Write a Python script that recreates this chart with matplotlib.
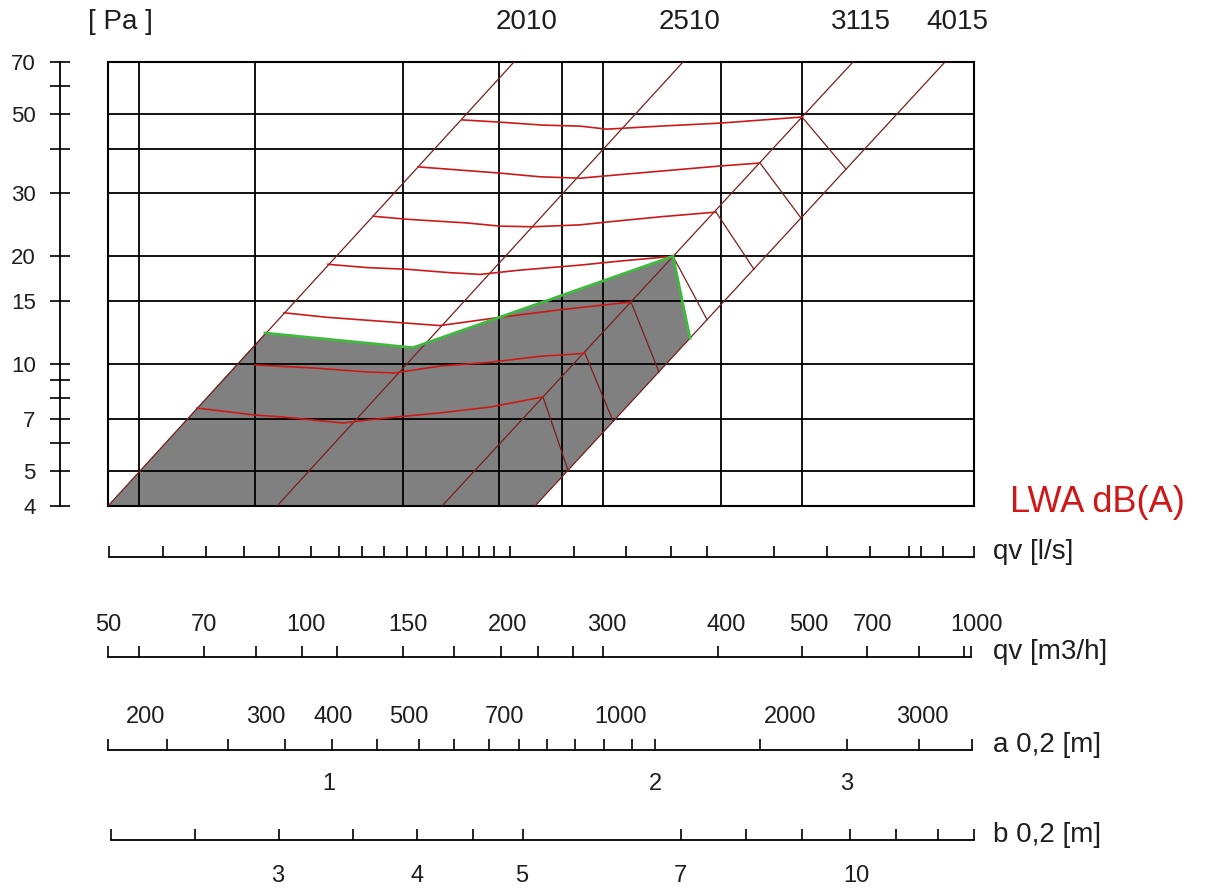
import matplotlib
matplotlib.use("Agg")
import matplotlib.pyplot as plt
import matplotlib.transforms as mtransforms
from matplotlib.ticker import NullLocator, FixedLocator, NullFormatter

plt.rcParams['font.family'] = ['Liberation Sans', 'DejaVu Sans']

# ---------------- data (x = position along the flow scale, y = pressure in Pa) -------------
X_MIN, X_MAX = 108, 974
P_MIN, P_MAX = 4, 70

grid_x = [139, 255, 403, 499, 562, 603, 721, 802]
grid_pa = [5, 7, 10, 15, 20, 30, 40, 50]
pa_ticks = [4, 5, 6, 7, 8, 9, 10, 15, 20, 30, 40, 50, 60, 70]
pa_labels = [4, 5, 7, 10, 15, 20, 30, 50, 70]

diag_names = ['2010', '2510', '3115', '4015']
diag_x_bottom = [108, 277, 442, 535]
diag_x_top = [514, 683, 853, 945]
diag_label_x = [527, 690, 861, 957]

# LWA iso-lines (from diagonal 2010 to diagonal 3115)
lwa1_x = [462, 500, 543, 580, 607, 660, 720, 802]
lwa1_pa = [48.2, 47.5, 46.6, 46.3, 45.4, 46.3, 47.2, 49.1]
lwa2_x = [418, 447, 500, 540, 580, 627, 720, 760]
lwa2_pa = [35.6, 35.1, 34.2, 33.4, 33.1, 34.0, 35.8, 36.5]
lwa3_x = [373, 407, 467, 500, 533, 580, 610, 660, 716]
lwa3_pa = [25.9, 25.4, 24.8, 24.3, 24.2, 24.5, 25.0, 25.8, 26.6]
lwa4_x = [328, 367, 407, 450, 480, 520, 580, 620, 673]
lwa4_pa = [19.0, 18.6, 18.4, 18.0, 17.8, 18.3, 18.9, 19.4, 20.0]
lwa5_x = [284, 327, 407, 440, 500, 563, 631]
lwa5_pa = [13.9, 13.5, 13.0, 12.8, 13.5, 14.2, 14.9]
lwa6_x = [255, 313, 367, 395, 440, 490, 540, 585]
lwa6_pa = [9.93, 9.74, 9.49, 9.43, 9.86, 10.1, 10.5, 10.7]
lwa7_x = [197, 255, 283, 343, 367, 397, 440, 490, 543]
lwa7_pa = [7.52, 7.19, 7.10, 6.83, 6.96, 7.10, 7.29, 7.57, 8.08]

# connectors from diagonal 3115 to diagonal 4015
conn_x_start = [802, 760, 716, 673, 631, 585, 543]
conn_pa_start = [49.1, 36.5, 26.6, 20.0, 14.9, 10.7, 8.08]
conn_x_end = [846, 801, 754, 707, 659, 613, 568]
conn_pa_end = [35.1, 25.6, 18.4, 13.3, 9.49, 6.92, 5.04]

# working area (shaded) and its green upper boundary
shade_x = [108, 265, 413, 673, 690, 535]
shade_pa = [4, 12.2, 11.1, 20.0, 11.8, 4]
edge_x = [265, 413, 673, 690]
edge_pa = [12.2, 11.1, 20.0, 11.8]

# lower scales
qvls_ticks = [109, 163, 206, 244, 279, 311, 339, 362, 384, 407, 426, 447, 463, 479,
              494, 510, 574, 626, 671, 707, 774, 827, 870, 909, 921, 943, 974]
qvm3h_ticks = [108, 139, 204, 256, 302, 337, 403, 454, 501, 538, 573, 603, 718, 802,
               867, 919, 964, 971]
qvm3h_labels = ['50', '70', '100', '150', '200', '300', '400', '500', '700', '1000']
qvm3h_label_x = [108, 204, 306, 408, 508, 607, 726, 809, 872, 976]
a_ticks = [108, 167, 228, 285, 332, 377, 419, 454, 489, 519, 547, 575, 604, 632, 655,
           760, 847, 919, 972]
a_top_labels = ['200', '300', '400', '500', '700', '1000', '2000', '3000']
a_top_x = [146, 266, 333, 409, 505, 621, 790, 922]
a_bot_labels = ['1', '2', '3']
a_bot_x = [329, 655, 847]
b_ticks = [111, 195, 279, 353, 417, 473, 523, 681, 746, 802, 850, 896, 938, 974]
b_labels = ['3', '4', '5', '7', '10']
b_label_x = [278, 417, 522, 680, 856]
scale_names = ['qv [l/s]', 'qv [m3/h]', 'a 0,2 [m]', 'b 0,2 [m]']

# ---------------- layout ----------------
W, H = 1216, 892
fig = plt.figure(figsize=(W / 100, H / 100), dpi=100)
fig.patch.set_facecolor('white')
TXT = '#1e1e1e'
ISO = '#cc1a1a'
DIAG = '#7a1f1f'


def fx(px):
    return px / W


def fy(py):
    return 1 - py / H


top_px, bot_px = 62, 506
ax = fig.add_axes([fx(X_MIN), fy(bot_px), (X_MAX - X_MIN) / W, (bot_px - top_px) / H])
ax.set_yscale('log')
ax.set_xlim(X_MIN, X_MAX)
ax.set_ylim(P_MIN, P_MAX)
ax.xaxis.set_major_locator(FixedLocator(grid_x))
ax.yaxis.set_major_locator(FixedLocator(grid_pa))
ax.xaxis.set_minor_locator(NullLocator())
ax.yaxis.set_minor_locator(NullLocator())
ax.tick_params(length=0, labelbottom=False, labelleft=False)
ax.grid(True, color='black', lw=1.3)
ax.set_axisbelow(False)
for s in ax.spines.values():
    s.set_linewidth(1.5)
    s.set_color('black')

ax.fill(shade_x, shade_pa, color='#808080', lw=0, zorder=1)

for xb, xt in zip(diag_x_bottom, diag_x_top):
    ax.plot([xb, xt], [P_MIN, P_MAX], color=DIAG, lw=0.9, zorder=3, solid_capstyle='butt')

for xs, ps in [(lwa1_x, lwa1_pa), (lwa2_x, lwa2_pa), (lwa3_x, lwa3_pa), (lwa4_x, lwa4_pa),
               (lwa5_x, lwa5_pa), (lwa6_x, lwa6_pa), (lwa7_x, lwa7_pa)]:
    ax.plot(xs, ps, color=ISO, lw=1.2, zorder=3.2)

for x0, p0, x1, p1 in zip(conn_x_start, conn_pa_start, conn_x_end, conn_pa_end):
    ax.plot([x0, x1], [p0, p1], color=DIAG, lw=0.9, zorder=3.1)

ax.plot(edge_x, edge_pa, color='#3fb93f', lw=2.0, zorder=4, solid_joinstyle='miter')

# top labels of the diagonals
top_tr = mtransforms.blended_transform_factory(ax.transData, fig.transFigure)
for name, xl in zip(diag_names, diag_label_x):
    fig.text(xl, fy(22), name, transform=top_tr, ha='center', va='center',
             fontsize=20, color=TXT)
fig.text(fx(88), fy(22), '[ Pa ]', ha='left', va='center', fontsize=20, color=TXT)

# separate pressure scale on the left
ay = fig.add_axes([fx(60), fy(bot_px), 0.5 / W, (bot_px - top_px) / H])
ay.set_yscale('log')
ay.set_ylim(P_MIN, P_MAX)
ay.yaxis.set_major_locator(FixedLocator(pa_ticks))
ay.yaxis.set_minor_locator(NullLocator())
ay.set_yticklabels([str(p) if p in pa_labels else '' for p in pa_ticks])
ay.tick_params(axis='y', direction='inout', length=15, width=1.2, pad=10,
               labelsize=16, labelcolor=TXT)
ay.set_xticks([])
for k in ['top', 'right', 'bottom']:
    ay.spines[k].set_visible(False)
ay.spines['left'].set_linewidth(1.3)
ay.patch.set_visible(False)

fig.text(fx(1010), fy(502), 'LWA dB(A)', ha='left', va='center', fontsize=26,
         color='#d01818')

# lower scales
line_y = [557, 657, 750, 840]
ticks_all = [qvls_ticks, qvm3h_ticks, a_ticks, b_ticks]
line_ends = [(109, 974), (108, 971), (108, 972), (111, 974)]
for ly, tks, (lo, hi), name in zip(line_y, ticks_all, line_ends, scale_names):
    s = fig.add_axes([fx(X_MIN), fy(ly), (X_MAX - X_MIN) / W, 20 / H])
    s.set_xlim(X_MIN, X_MAX)
    s.patch.set_visible(False)
    for k in ['top', 'right', 'left']:
        s.spines[k].set_visible(False)
    s.spines['bottom'].set_bounds(lo, hi)
    s.spines['bottom'].set_linewidth(1.3)
    s.set_yticks([])
    s.xaxis.set_major_locator(FixedLocator(tks))
    s.xaxis.set_major_formatter(NullFormatter())
    s.tick_params(axis='x', direction='in', length=8, width=1.2)
    fig.text(fx(993), fy(ly - 5), name, ha='left', va='center', fontsize=20, color=TXT)

tr = mtransforms.blended_transform_factory(ax.transData, fig.transFigure)
for lab, xl in zip(qvm3h_labels, qvm3h_label_x):
    fig.text(xl, fy(625), lab, transform=tr, ha='center', va='center', fontsize=17, color=TXT)
for lab, xl in zip(a_top_labels, a_top_x):
    fig.text(xl, fy(717), lab, transform=tr, ha='center', va='center', fontsize=17, color=TXT)
for lab, xl in zip(a_bot_labels, a_bot_x):
    fig.text(xl, fy(784), lab, transform=tr, ha='center', va='center', fontsize=17, color=TXT)
for lab, xl in zip(b_labels, b_label_x):
    fig.text(xl, fy(876), lab, transform=tr, ha='center', va='center', fontsize=17, color=TXT)

fig.savefig('out.png', dpi=100, facecolor='white')
